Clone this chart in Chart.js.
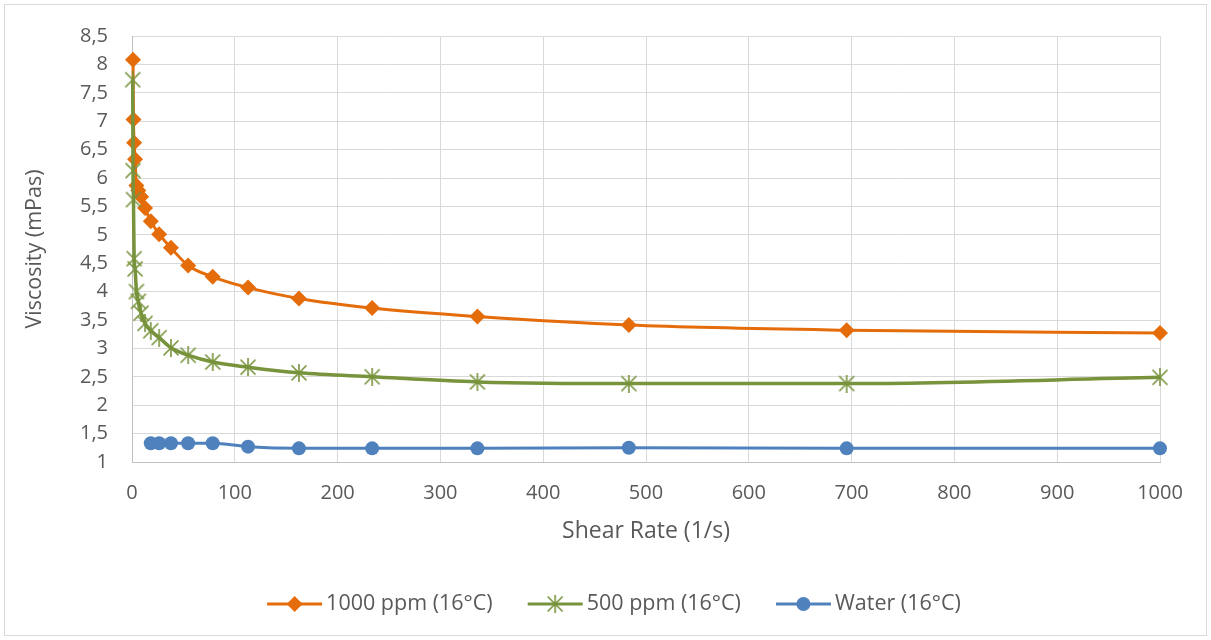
<!DOCTYPE html>
<html>
<head>
<meta charset="utf-8">
<script src="https://cdn.jsdelivr.net/npm/chart.js@4/dist/chart.umd.min.js"></script>
<style>
  body { margin: 0; background: #fff; }
  #wrap { position: absolute; left: 0; top: 0; width: 1211px; height: 640px; }
</style>
</head>
<body>
<div id="wrap"><canvas id="myChart" width="1211" height="640"></canvas></div>
<script>
// shear rate (1/s), shared x values
let shearRate = [0.695, 1.0, 1.44, 2.07, 2.98, 4.28, 6.16, 8.86, 12.7, 18.3, 26.4, 37.9, 54.6, 78.5, 112.9, 162.4, 233.6, 336.0, 483.3, 695.2, 1000];
// viscosity (mPas)
let visc1000 = [null, 8.08, 7.03, 6.62, 6.33, 5.87, 5.78, 5.67, 5.47, 5.24, 5.01, 4.77, 4.46, 4.26, 4.07, 3.88, 3.71, 3.56, 3.41, 3.32, 3.27];
let visc500 = [7.73, 6.13, 5.62, 4.58, 4.40, 4.00, 3.83, 3.62, 3.44, 3.31, 3.19, 3.01, 2.88, 2.76, 2.67, 2.57, 2.50, 2.41, 2.38, 2.38, 2.49];
let viscWater = [null, null, null, null, null, null, null, null, null, 1.33, 1.33, 1.33, 1.33, 1.33, 1.27, 1.24, 1.24, 1.24, 1.25, 1.24, 1.24];
let seriesNames = ["1000 ppm (16°C)", "500 ppm (16°C)", "Water (16°C)"];
let xTicks = [0, 100, 200, 300, 400, 500, 600, 700, 800, 900, 1000];

let orange = "#E46C0A";
let green = "#77933C";
let blue = "#4F81BD";
let textColor = "#595959";
let fontName = "'Open Sans'";

function toPoints(ys) {
  let pts = [];
  ys.forEach((y, i) => {
    if (y !== null) pts.push({ x: shearRate[i], y: y });
  });
  return pts;
}

// excel style star marker: X plus a vertical stroke
function makeStar(color, size) {
  let c = document.createElement("canvas");
  c.width = size; c.height = size;
  let g = c.getContext("2d");
  g.strokeStyle = color;
  g.lineWidth = 1.6;
  let m = 1.5;
  g.beginPath();
  g.moveTo(m, m); g.lineTo(size - m, size - m);
  g.moveTo(size - m, m); g.lineTo(m, size - m);
  g.moveTo(size / 2, 0); g.lineTo(size / 2, size);
  g.stroke();
  return c;
}
let starImg = makeStar(green, 18);

let bgPlugin = {
  id: "bg",
  beforeDraw(chart) {
    let ctx = chart.ctx;
    ctx.save();
    ctx.fillStyle = "#fff";
    ctx.fillRect(0, 0, chart.width, chart.height);
    ctx.strokeStyle = "#d9d9d9";
    ctx.lineWidth = 1;
    ctx.strokeRect(4.5, 4.5, chart.width - 9, chart.height - 9);
    ctx.restore();
  }
};

let legendPlugin = {
  id: "myLegend",
  afterDraw(chart) {
    let ctx = chart.ctx;
    ctx.save();
    ctx.font = "21.5px " + fontName;
    ctx.textBaseline = "middle";
    let lineLen = 55, gapText = 4, gapItem = 35;
    let widths = chart.data.datasets.map(ds => lineLen + gapText + ctx.measureText(ds.label).width);
    let total = widths.reduce((a, b) => a + b, 0) + gapItem * (widths.length - 1);
    let x = 614 - total / 2;
    let y = 604;
    chart.data.datasets.forEach((ds, i) => {
      ctx.strokeStyle = ds.borderColor;
      ctx.lineWidth = 3;
      ctx.beginPath();
      ctx.moveTo(x, y); ctx.lineTo(x + lineLen, y);
      ctx.stroke();
      let cx = x + lineLen / 2;
      if (ds.pointStyle === "rectRot") {
        ctx.fillStyle = ds.borderColor;
        ctx.beginPath();
        ctx.moveTo(cx, y - 8); ctx.lineTo(cx + 8, y); ctx.lineTo(cx, y + 8); ctx.lineTo(cx - 8, y);
        ctx.closePath(); ctx.fill();
      } else if (ds.pointStyle === "circle") {
        ctx.fillStyle = ds.borderColor;
        ctx.beginPath();
        ctx.arc(cx, y, 7, 0, Math.PI * 2);
        ctx.fill();
      } else {
        ctx.drawImage(starImg, cx - 9, y - 9);
      }
      ctx.fillStyle = textColor;
      ctx.fillText(ds.label, x + lineLen + gapText, y);
      x += widths[i] + gapItem;
    });
    ctx.restore();
  }
};

let ctx = document.getElementById("myChart");
new Chart(ctx, {
  type: "scatter",
  data: {
    datasets: [
      {
        label: seriesNames[0],
        data: toPoints(visc1000),
        showLine: true,
        borderColor: orange,
        backgroundColor: orange,
        borderWidth: 3,
        pointStyle: "rectRot",
        pointRadius: 8,
        pointBorderWidth: 0,
        cubicInterpolationMode: "monotone",
        order: 3
      },
      {
        label: seriesNames[1],
        data: toPoints(visc500),
        showLine: true,
        borderColor: green,
        backgroundColor: green,
        borderWidth: 3.5,
        pointStyle: starImg,
        pointRadius: 9,
        cubicInterpolationMode: "monotone",
        order: 2
      },
      {
        label: seriesNames[2],
        data: toPoints(viscWater),
        showLine: true,
        borderColor: blue,
        backgroundColor: blue,
        borderWidth: 3,
        pointStyle: "circle",
        pointRadius: 7,
        pointBorderWidth: 0,
        cubicInterpolationMode: "monotone",
        order: 1
      }
    ]
  },
  options: {
    responsive: false,
    animation: false,
    clip: false,
    layout: { padding: { left: 20, top: 32, right: 51, bottom: 92 } },
    plugins: {
      legend: { display: false },
      tooltip: { enabled: false }
    },
    scales: {
      x: {
        type: "linear",
        min: 0,
        max: 1000,
        afterBuildTicks: (axis) => { axis.ticks = xTicks.map(v => ({ value: v })); },
        afterFit: (axis) => { axis.height = 86; },
        grid: { color: "#d9d9d9", lineWidth: 1, drawTicks: false },
        border: { color: "#bfbfbf", width: 1 },
        ticks: {
          color: textColor,
          font: { family: fontName, size: 20 },
          padding: 19,
          maxRotation: 0,
          callback: (v) => String(v)
        },
        title: { display: true, text: "Shear Rate (1/s)", color: textColor, font: { family: fontName, size: 23 }, padding: { top: 4, bottom: 3 } }
      },
      y: {
        min: 1,
        max: 8.5,
        afterFit: (axis) => { axis.width = 112; },
        grid: { color: "#d9d9d9", lineWidth: 1, drawTicks: false },
        border: { color: "#bfbfbf", width: 1 },
        ticks: {
          stepSize: 0.5,
          color: textColor,
          font: { family: fontName, size: 20 },
          padding: 24,
          callback: (v) => String(v).replace(".", ",")
        },
        title: { display: true, text: "Viscosity (mPas)", color: textColor, font: { family: fontName, size: 21.5 }, padding: { top: 2, bottom: 4 } }
      }
    }
  },
  plugins: [bgPlugin, legendPlugin]
});
</script>
</body>
</html>
